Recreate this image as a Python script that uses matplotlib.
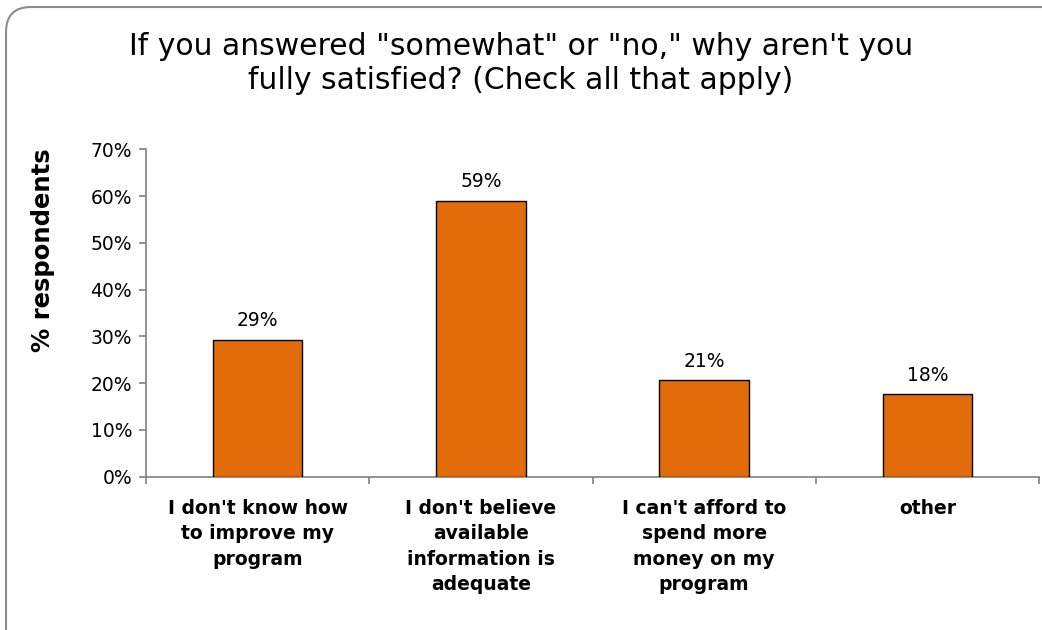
import matplotlib
matplotlib.use("Agg")
import matplotlib.pyplot as plt
from matplotlib.patches import FancyBboxPatch
from matplotlib.ticker import FixedLocator, PercentFormatter

title = "If you answered \"somewhat\" or \"no,\" why aren't you\nfully satisfied? (Check all that apply)"
categories = [
    "I don't know how\nto improve my\nprogram",
    "I don't believe\navailable\ninformation is\nadequate",
    "I can't afford to\nspend more\nmoney on my\nprogram",
    "other",
]
values = [29.3, 59.0, 20.6, 17.6]
labels = ["29%", "59%", "21%", "18%"]
yticks = [0, 10, 20, 30, 40, 50, 60, 70]

plt.rcParams['font.family'] = ['DejaVu Sans']

W, H = 1042, 630
fig = plt.figure(figsize=(W / 100, H / 100), dpi=100)

# rounded outer frame
frame = FancyBboxPatch((6 / 100, -0.3), 11.0, (H - 7) / 100 + 0.3,
                       boxstyle="round,pad=0,rounding_size=0.25",
                       transform=fig.dpi_scale_trans, fill=False,
                       edgecolor="#8c8c8c", linewidth=1.5, zorder=0)
fig.patches.append(frame)

ax = fig.add_axes([146 / W, 1 - 476.7 / H, (1039 - 146) / W, (476.7 - 149.5) / H])
x = list(range(len(categories)))
ax.bar(x, values, width=0.40, color="#E36C0A", edgecolor="#000000", linewidth=1.0, zorder=3)
for xi, v, lab in zip(x, values, labels):
    ax.annotate(lab, (xi, v), xytext=(0, 7), textcoords="offset points",
                ha="center", va="bottom", fontsize=13.5)

ax.set_xlim(-0.5, len(categories) - 0.5)
ax.set_ylim(0, 70)
ax.set_yticks(yticks)
ax.yaxis.set_major_formatter(PercentFormatter(decimals=0))
ax.set_xticks(x)
ax.set_xticklabels(categories, fontweight="bold", fontsize=13.5, linespacing=1.42, va="top")
ax.xaxis.set_minor_locator(FixedLocator([i - 0.5 for i in range(len(categories) + 1)]))
ax.tick_params(axis="x", which="major", length=0, pad=16)
ax.tick_params(axis="x", which="minor", length=5, color="#808080", width=1.2)
ax.tick_params(axis="y", length=5, color="#808080", width=1.2, labelsize=13.5, pad=5)

for s in ["top", "right"]:
    ax.spines[s].set_visible(False)
for s in ["left", "bottom"]:
    ax.spines[s].set_color("#808080")
    ax.spines[s].set_linewidth(1.2)

fig.text(43 / W, 1 - 250 / H, "% respondents", rotation=90, ha="center", va="center",
         fontsize=17.5, fontweight="bold")
fig.text(521 / W, 1 - 63.5 / H, title, ha="center", va="center", fontsize=21.5,
         linespacing=1.22)

fig.savefig("out.png", dpi=100)
